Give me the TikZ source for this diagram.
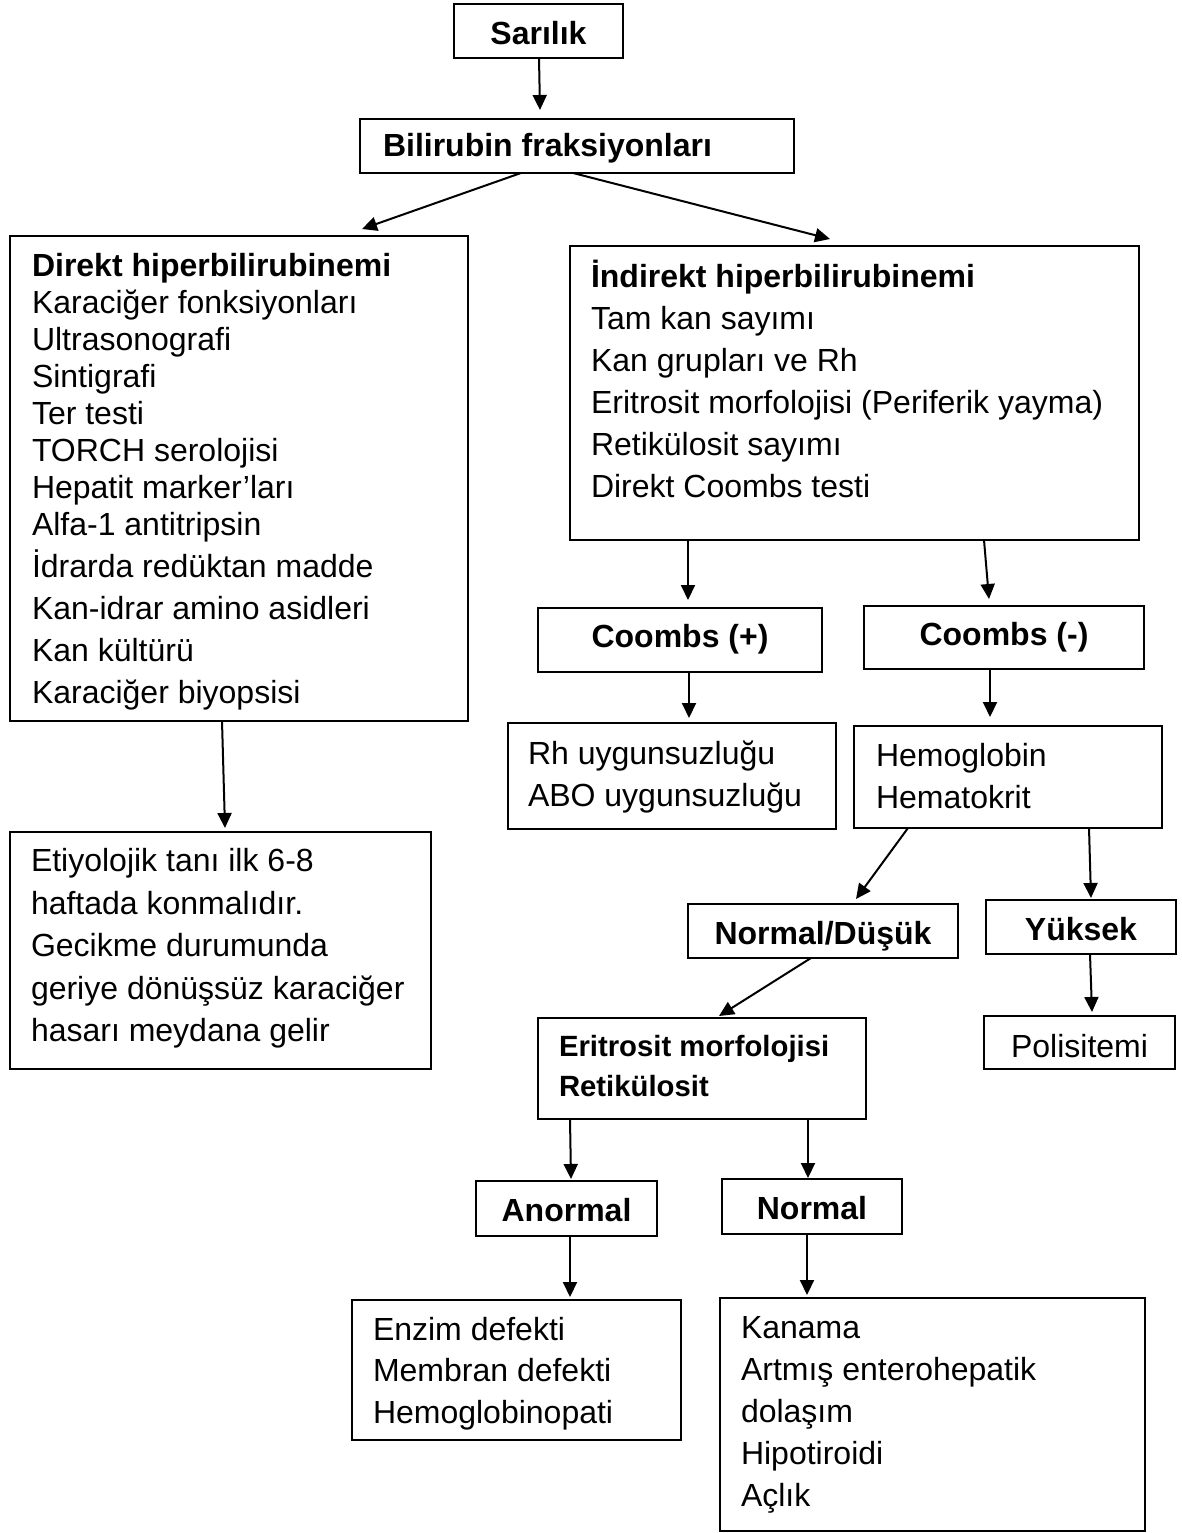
\documentclass[tikz,border=0pt]{standalone}
\usepackage{fontspec}
\setmainfont{Liberation Sans}
\usetikzlibrary{arrows.meta,calc}
% width, height, left pad, first baseline, font size, baselineskip, body
\newcommand\lbox[7]{\parbox[c][#2pt][t]{#1pt}{\fontsize{#5pt}{#6pt}\selectfont\raggedright\leftskip=#3pt\relax\rule{0pt}{#4pt}#7}}
% width, height, first baseline, font size, baselineskip, body
\newcommand\cbox[6]{\parbox[c][#2pt][t]{#1pt}{\fontsize{#4pt}{#5pt}\selectfont\centering\rule{0pt}{#3pt}#6}}
\tikzset{
  bx/.style={draw=black, line width=2pt, inner sep=0pt, outer sep=0pt, anchor=north west},
  arr/.style={draw=black, line width=2pt, -{Triangle[length=15pt,width=14pt]}}
}
\begin{document}
\begin{tikzpicture}[x=1pt,y=-1pt]
\useasboundingbox (0,0) rectangle (1181,1533);
\node[bx] (sar) at (454,4) {\cbox{169}{54}{41}{32}{38}{\bfseries Sarılık}};
\node[bx] (bil) at (360,119) {\lbox{434}{54}{23}{38}{32}{38}{\bfseries Bilirubin fraksiyonları}};
\node[bx] (dir) at (10,236) {\lbox{458}{485}{22}{40}{32}{37}{\textbf{Direkt hiperbilirubinemi}\\
Karaciğer fonksiyonları\\ Ultrasonografi\\ Sintigrafi\\ Ter testi\\ TORCH serolojisi\\ Hepatit marker’ları\\ Alfa-1 antitripsin\\[5pt]
İdrarda redüktan madde\\[5pt] Kan-idrar amino asidleri\\[5pt] Kan kültürü\\[5pt] Karaciğer biyopsisi}};
\node[bx] (ety) at (10,832) {\lbox{421}{237}{21}{39.5}{32}{42.5}{Etiyolojik tanı ilk 6-8\\ haftada konmalıdır.\\ Gecikme durumunda\\ geriye dönüşsüz karaciğer\\ hasarı meydana gelir}};
\node[bx] (ind) at (570,246) {\lbox{569}{294}{21}{41.4}{32}{42}{\textbf{İndirekt hiperbilirubinemi}\\
Tam kan sayımı\\ Kan grupları ve Rh\\ Eritrosit morfolojisi (Periferik yayma)\\ Retikülosit sayımı\\ Direkt Coombs testi}};
\node[bx] (cp) at (538,608) {\cbox{284}{64}{39}{32}{38}{\bfseries Coombs (+)}};
\node[bx] (cm) at (864,606) {\cbox{280}{63}{39}{32}{38}{\bfseries Coombs (-)}};
\node[bx] (rh) at (508,723) {\lbox{328}{106}{20}{41}{32}{42}{Rh uygunsuzluğu\\ ABO uygunsuzluğu}};
\node[bx] (hb) at (854,726) {\lbox{308}{102}{22}{40}{32}{42}{Hemoglobin\\ Hematokrit}};
\node[bx] (nd) at (688,904) {\cbox{270}{54}{40.3}{32}{38}{\bfseries Normal/Düşük}};
\node[bx] (yk) at (986,900) {\cbox{190}{54}{40}{32}{38}{\bfseries Yüksek}};
\node[bx] (er) at (538,1018) {\lbox{328}{101}{21}{38}{29.3}{40}{\bfseries Eritrosit morfolojisi\\ Retikülosit}};
\node[bx] (pol) at (984,1016) {\cbox{191}{53}{41}{32}{38}{Polisitemi}};
\node[bx] (an) at (476,1181) {\cbox{181}{55}{40.7}{32}{38}{\bfseries Anormal}};
\node[bx] (no) at (722,1179) {\cbox{180}{55}{40.7}{32}{38}{\bfseries Normal}};
\node[bx] (enz) at (352,1300) {\lbox{329}{140}{21}{40}{32}{41.7}{Enzim defekti\\ Membran defekti\\ Hemoglobinopati}};
\node[bx] (kan) at (720,1298) {\lbox{425}{233}{21}{40}{32}{42}{Kanama\\ Artmış enterohepatik\\ dolaşım\\ Hipotiroidi\\ Açlık}};
% connectors
\draw[arr] ($(sar.south west)+(85,0)$) -- ($(bil.north west)+(180,-9)$);
\draw[arr] ($(bil.south west)+(161,0)$) -- ($(dir.north west)+(352,-7)$);
\draw[arr] ($(bil.south west)+(213,0)$) -- ($(ind.north west)+(260,-7)$);
\draw[arr] ($(dir.south west)+(212,0)$) -- ($(ety.north west)+(215,-4)$);
\draw[arr] ($(ind.south west)+(118,0)$) -- ($(cp.north west)+(150,-8)$);
\draw[arr] ($(ind.south west)+(414,0)$) -- ($(cm.north west)+(125,-7)$);
\draw[arr] ($(cp.south west)+(151,0)$) -- ($(rh.north west)+(181,-5)$);
\draw[arr] ($(cm.south west)+(126,0)$) -- ($(hb.north west)+(136,-9)$);
\draw[arr] ($(hb.south west)+(54,0)$) -- ($(nd.north west)+(168,-5)$);
\draw[arr] ($(hb.south west)+(235,0)$) -- ($(yk.north west)+(105,-2)$);
\draw[arr] ($(nd.south west)+(123,0)$) -- ($(er.north west)+(181,-2)$);
\draw[arr] ($(yk.south west)+(104,0)$) -- ($(pol.north west)+(108,-4)$);
\draw[arr] ($(er.south west)+(32,0)$) -- ($(an.north west)+(95,-2)$);
\draw[arr] ($(er.south west)+(270,0)$) -- ($(no.north west)+(86,-1)$);
\draw[arr] ($(an.south west)+(94,0)$) -- ($(enz.north west)+(218,-3)$);
\draw[arr] ($(no.south west)+(85,0)$) -- ($(kan.north west)+(87,-3)$);
\end{tikzpicture}
\end{document}
